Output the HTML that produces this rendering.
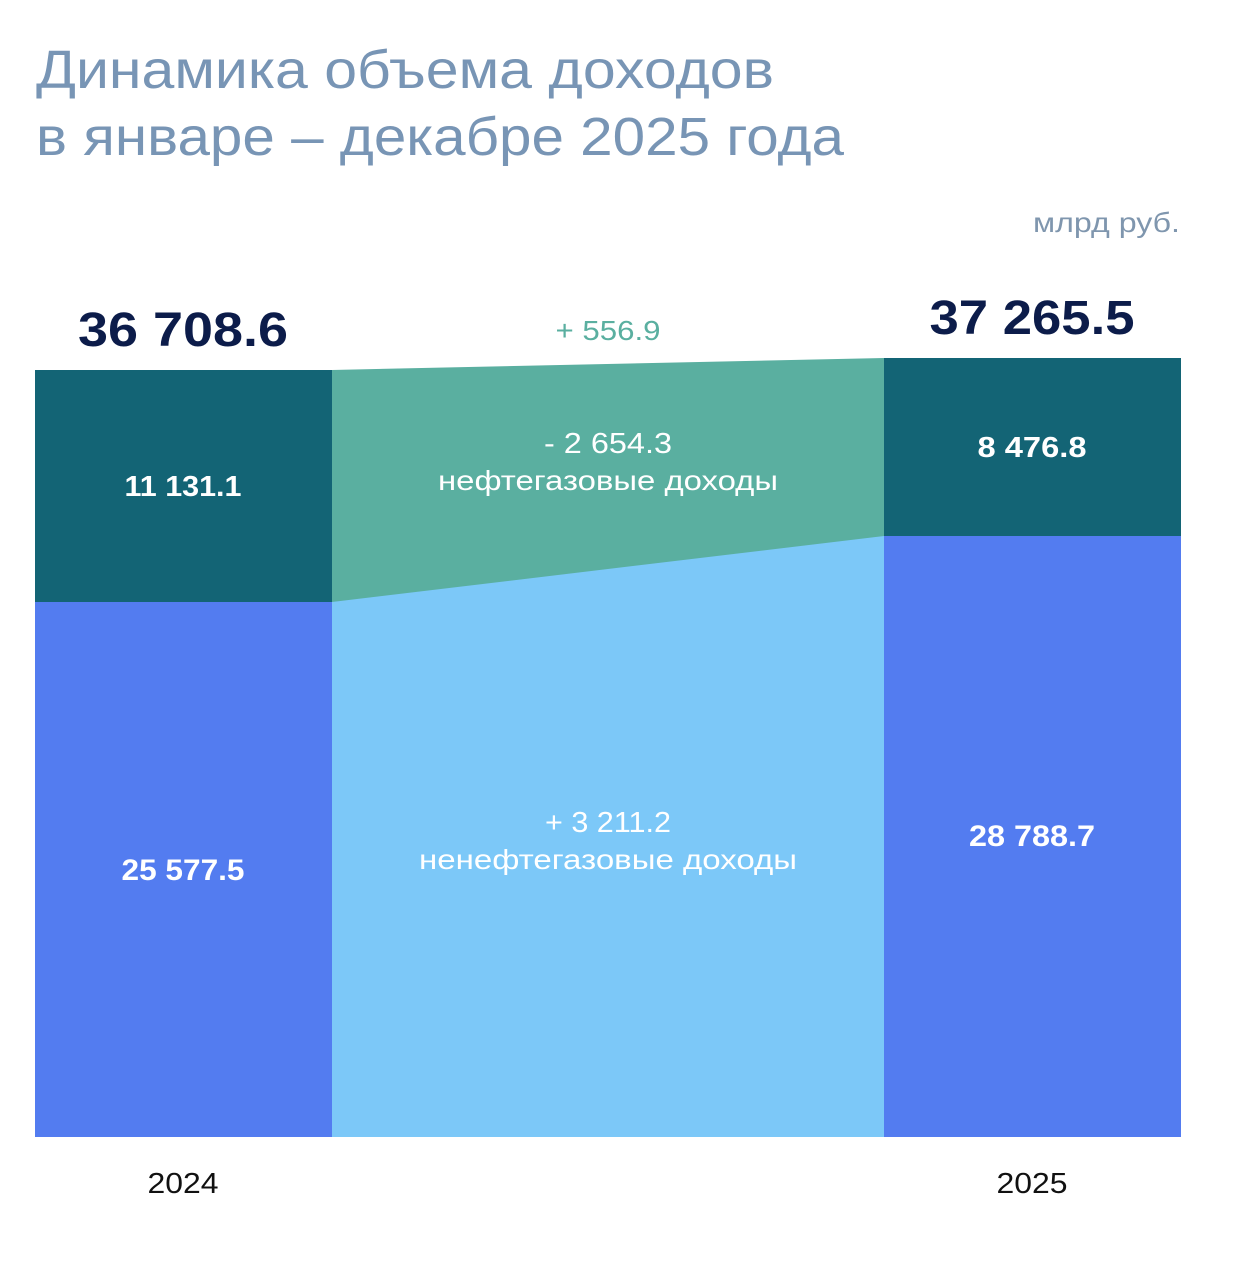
<!DOCTYPE html>
<html><head><meta charset="utf-8"><style>
html,body{margin:0;padding:0;background:#fff;}
svg{display:block;}
text{font-family:"Liberation Sans",sans-serif;}
</style></head><body>
<svg width="1236" height="1268" viewBox="0 0 1236 1268" xmlns="http://www.w3.org/2000/svg">
<rect width="1236" height="1268" fill="#fff"/>
<text x="36" y="88" font-size="54" fill="#7895B5" textLength="738" lengthAdjust="spacingAndGlyphs">Динамика объема доходов</text>
<text x="36" y="155" font-size="54" fill="#7895B5" textLength="808" lengthAdjust="spacingAndGlyphs">в январе – декабре 2025 года</text>
<text x="1180" y="232" font-size="28" fill="#7F96AE" text-anchor="end" textLength="147" lengthAdjust="spacingAndGlyphs">млрд руб.</text>

<rect x="35" y="370" width="297" height="233" fill="#136475"/>
<rect x="35" y="602" width="297" height="535" fill="#537CF0"/>
<rect x="884" y="358" width="297" height="179" fill="#136475"/>
<rect x="884" y="536" width="297" height="601" fill="#537CF0"/>
<polygon points="332,370 884,358 884,537 332,603" fill="#5AAFA0"/>
<polygon points="332,602 884,536 884,1137 332,1137" fill="#7CC8F8"/>

<text x="183" y="346" font-size="48" font-weight="bold" fill="#0C1C4A" text-anchor="middle" textLength="210" lengthAdjust="spacingAndGlyphs">36 708.6</text>
<text x="1032" y="334" font-size="48" font-weight="bold" fill="#0C1C4A" text-anchor="middle" textLength="205" lengthAdjust="spacingAndGlyphs">37 265.5</text>
<text x="608" y="340" font-size="28" fill="#5AAFA0" text-anchor="middle" textLength="105" lengthAdjust="spacingAndGlyphs">+ 556.9</text>

<text x="183" y="496" font-size="29" font-weight="bold" fill="#fff" text-anchor="middle" textLength="117" lengthAdjust="spacingAndGlyphs">11 131.1</text>
<text x="1032" y="457" font-size="29" font-weight="bold" fill="#fff" text-anchor="middle" textLength="109" lengthAdjust="spacingAndGlyphs">8 476.8</text>
<text x="183" y="880" font-size="30" font-weight="bold" fill="#fff" text-anchor="middle" textLength="123" lengthAdjust="spacingAndGlyphs">25 577.5</text>
<text x="1032" y="846" font-size="30" font-weight="bold" fill="#fff" text-anchor="middle" textLength="126" lengthAdjust="spacingAndGlyphs">28 788.7</text>

<text x="608" y="453" font-size="29" fill="#fff" text-anchor="middle" textLength="128" lengthAdjust="spacingAndGlyphs">- 2 654.3</text>
<text x="608" y="490" font-size="28" fill="#fff" text-anchor="middle" textLength="340" lengthAdjust="spacingAndGlyphs">нефтегазовые доходы</text>
<text x="608" y="832" font-size="29" fill="#fff" text-anchor="middle" textLength="126" lengthAdjust="spacingAndGlyphs">+ 3 211.2</text>
<text x="608" y="869" font-size="28" fill="#fff" text-anchor="middle" textLength="378" lengthAdjust="spacingAndGlyphs">ненефтегазовые доходы</text>

<text x="183" y="1193" font-size="29" fill="#111" text-anchor="middle" textLength="71" lengthAdjust="spacingAndGlyphs">2024</text>
<text x="1032" y="1193" font-size="29" fill="#111" text-anchor="middle" textLength="71" lengthAdjust="spacingAndGlyphs">2025</text>
</svg>
</body></html>
